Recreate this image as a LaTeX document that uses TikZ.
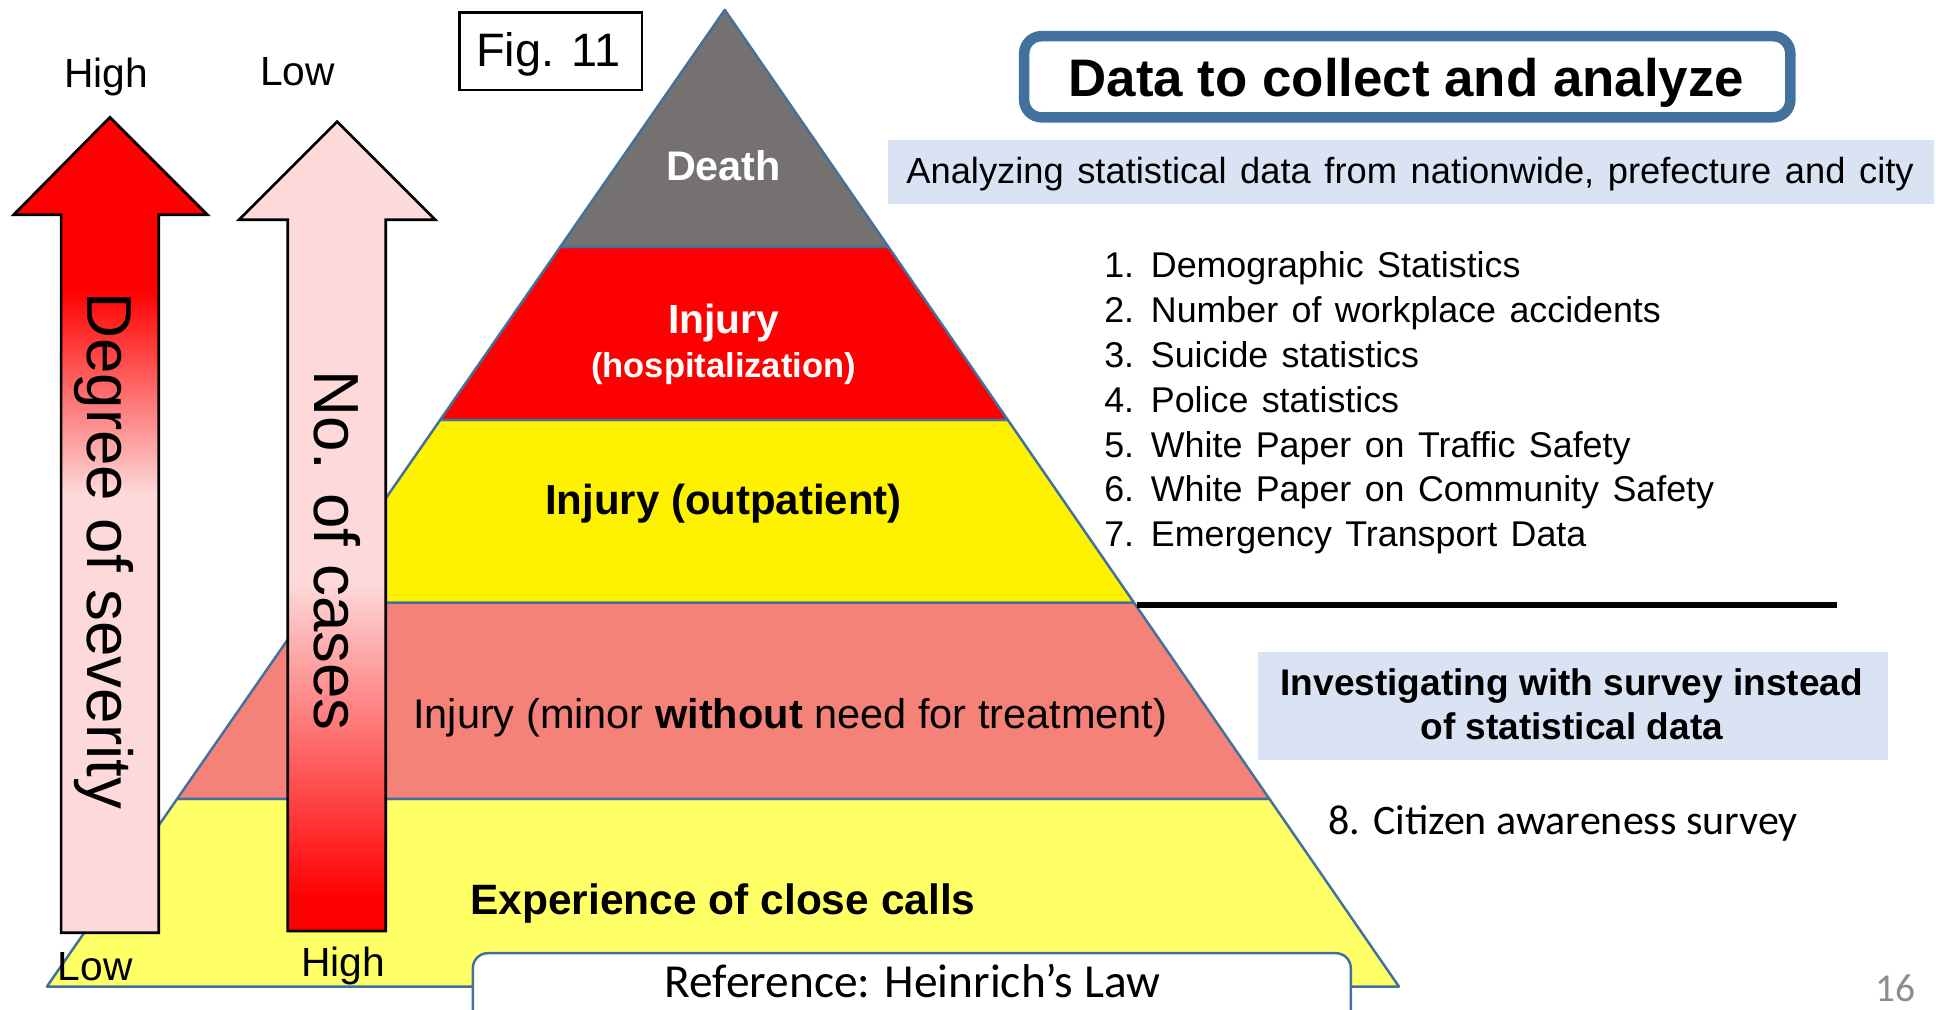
\documentclass[tikz,border=0pt]{standalone}
\usepackage{fontspec}
\setmainfont{Liberation Sans}
\newfontfamily\calib{Carlito}
\newfontfamily\widesp[WordSpace=1.35]{Liberation Sans}
\usetikzlibrary{calc}
\definecolor{edgeblue}{HTML}{41719C}
\definecolor{deathgray}{HTML}{767171}
\definecolor{minorsalmon}{HTML}{F48279}
\definecolor{closeyellow}{HTML}{FFFF66}
\definecolor{bandblue}{HTML}{DAE3F3}
\definecolor{pinklt}{HTML}{FDD9D9}
\definecolor{pagegray}{HTML}{8C8C8C}
\pgfdeclareverticalshading{sevshade}{100bp}{color(0bp)=(pinklt); color(51.9bp)=(pinklt); color(64.4bp)=(red); color(100bp)=(red)}
\pgfdeclareverticalshading{caseshade}{100bp}{color(0bp)=(red); color(27bp)=(red); color(46.5bp)=(pinklt); color(100bp)=(pinklt)}
\newcommand{\fsz}[1]{\fontsize{#1}{#1}\selectfont}
\tikzset{
  layer/.style={draw=edgeblue, line width=1pt, line join=round},
  txt/.style={inner sep=0pt, outer sep=0pt, anchor=base},
  bigarrow/.style={draw=black, line width=1.1pt, line join=miter},
  band/.style={fill=bandblue, draw=none},
  listitem/.style={inner sep=0pt, anchor=base west, font=\widesp\fsz{14.5}}
}
\begin{document}
\begin{tikzpicture}[x=0.5pt, y=-0.5pt]
\path[use as bounding box] (0,0) rectangle (1568,818);
\clip (0,0) rectangle (1568,818);
% pyramid
\coordinate (apex) at (587,8);
\coordinate (bl) at (38,799);
\coordinate (br) at (1133,799);
\coordinate (l1) at ($(apex)!0.24273!(bl)$);
\coordinate (r1) at ($(apex)!0.24273!(br)$);
\coordinate (l2) at ($(apex)!0.41972!(bl)$);
\coordinate (r2) at ($(apex)!0.41972!(br)$);
\coordinate (l3) at ($(apex)!0.60683!(bl)$);
\coordinate (r3) at ($(apex)!0.60683!(br)$);
\coordinate (l4) at ($(apex)!0.80784!(bl)$);
\coordinate (r4) at ($(apex)!0.80784!(br)$);
\filldraw[layer, fill=closeyellow] (l4) -- (r4) -- (br) -- (bl) -- cycle;
\filldraw[layer, fill=minorsalmon] (l3) -- (r3) -- (r4) -- (l4) -- cycle;
\filldraw[layer, fill=yellow] (l2) -- (r2) -- (r3) -- (l3) -- cycle;
\filldraw[layer, fill=red] (l1) -- (r1) -- (r2) -- (l2) -- cycle;
\filldraw[layer, fill=deathgray] (apex) -- (r1) -- (l1) -- cycle;
% pyramid texts
\node[txt, text=white] (death) at (586,146) {\fsz{16.75}\bfseries Death};
\node[txt, text=white] (hosp) at (586,270) {\fsz{16.5}\bfseries Injury};
\node[txt, text=white] (hosp2) at (586,306) {\fsz{14}\bfseries (hospitalization)};
\node[txt] (outp) at (586,417) {\fsz{17}\bfseries Injury (outpatient)};
\node[txt] (minor) at (640,590) {\fsz{16.8}Injury (minor \textbf{without} need for treatment)};
\node[txt] (close) at (585.5,741) {\fsz{17.2}\bfseries Experience of close calls};
% reference box
\draw[draw=edgeblue, fill=white, line width=1pt, rounded corners=6pt] (383,840) -- (383,772) -- (1094,772) -- (1094,840);
\node[txt] (ref) at (739,808) {\fsz{19.2}\calib Reference: Heinrich’s Law};
% arrows
\path[bigarrow, shading=sevshade] (49.5,755.5) -- (49.5,174) -- (11,174) -- (89,95) -- (168,174) -- (128.5,174) -- (128.5,755.5) -- cycle;
\path[bigarrow, shading=caseshade] (233,754) -- (233,178) -- (193.5,178) -- (273,98.5) -- (352.5,178) -- (312.5,178) -- (312.5,754) -- cycle;
\node[txt, rotate=-90] (deg) at (70.5,446) {\fsz{25.8}Degree of severity};
\node[txt, rotate=-90] (cases) at (255,446) {\fsz{25.8}No. of cases};
\node[txt] (hiL) at (86,71) {\fsz{16.5}High};
\node[txt] (loR) at (241,69) {\fsz{16.5}Low};
\node[txt] (loL) at (77,794) {\fsz{16.5}Low};
\node[txt] (hiR) at (278,791) {\fsz{16.5}High};
% fig box
\draw[line width=1pt, fill=white] (372,10) rectangle (520,73);
\node[txt] (fig) at (444,54) {\fsz{19}Fig. 11};
% title
\draw[draw=edgeblue, line width=4.25pt, rounded corners=7pt, fill=white] (829.5,29.3) rectangle (1450,95);
\node[txt] (title) at (1139,78) {\fsz{21.4}\bfseries Data to collect and analyze};
% band 1
\fill[band] (719,113) rectangle (1566,165);
\node[txt] (band1) at (1142,148.5) {\widesp\fsz{14.7}Analyzing statistical data from nationwide, prefecture and city};
% list
\node[listitem] (i1) at (894,225) {1. Demographic Statistics};
\node[listitem] (i2) at (894,261.3) {2. Number of workplace accidents};
\node[listitem] (i3) at (894,297.6) {3. Suicide statistics};
\node[listitem] (i4) at (894,334) {4. Police statistics};
\node[listitem] (i5) at (894,370.2) {5. White Paper on Traffic Safety};
\node[listitem] (i6) at (894,406.5) {6. White Paper on Community Safety};
\node[listitem] (i7) at (894,442.8) {7. Emergency Transport Data};
% separator
\coordinate (sepA) at (921,490);
\coordinate (sepB) at (1488,490);
\draw[line width=2.25pt] (sepA) -- (sepB);
% band 2
\fill[band] (1019,528) rectangle (1529,615.5);
\node[txt] (inv1) at (1273,563) {\fsz{15}\bfseries Investigating with survey instead};
\node[txt] (inv2) at (1273,599) {\fsz{15}\bfseries of statistical data};
\node[txt, anchor=base west] (i8) at (1076,675.6) {\fsz{17}\calib 8. Citizen awareness survey};
\node[txt, text=pagegray] (pg) at (1535,811) {\fsz{16}\calib 16};
\end{tikzpicture}
\end{document}
